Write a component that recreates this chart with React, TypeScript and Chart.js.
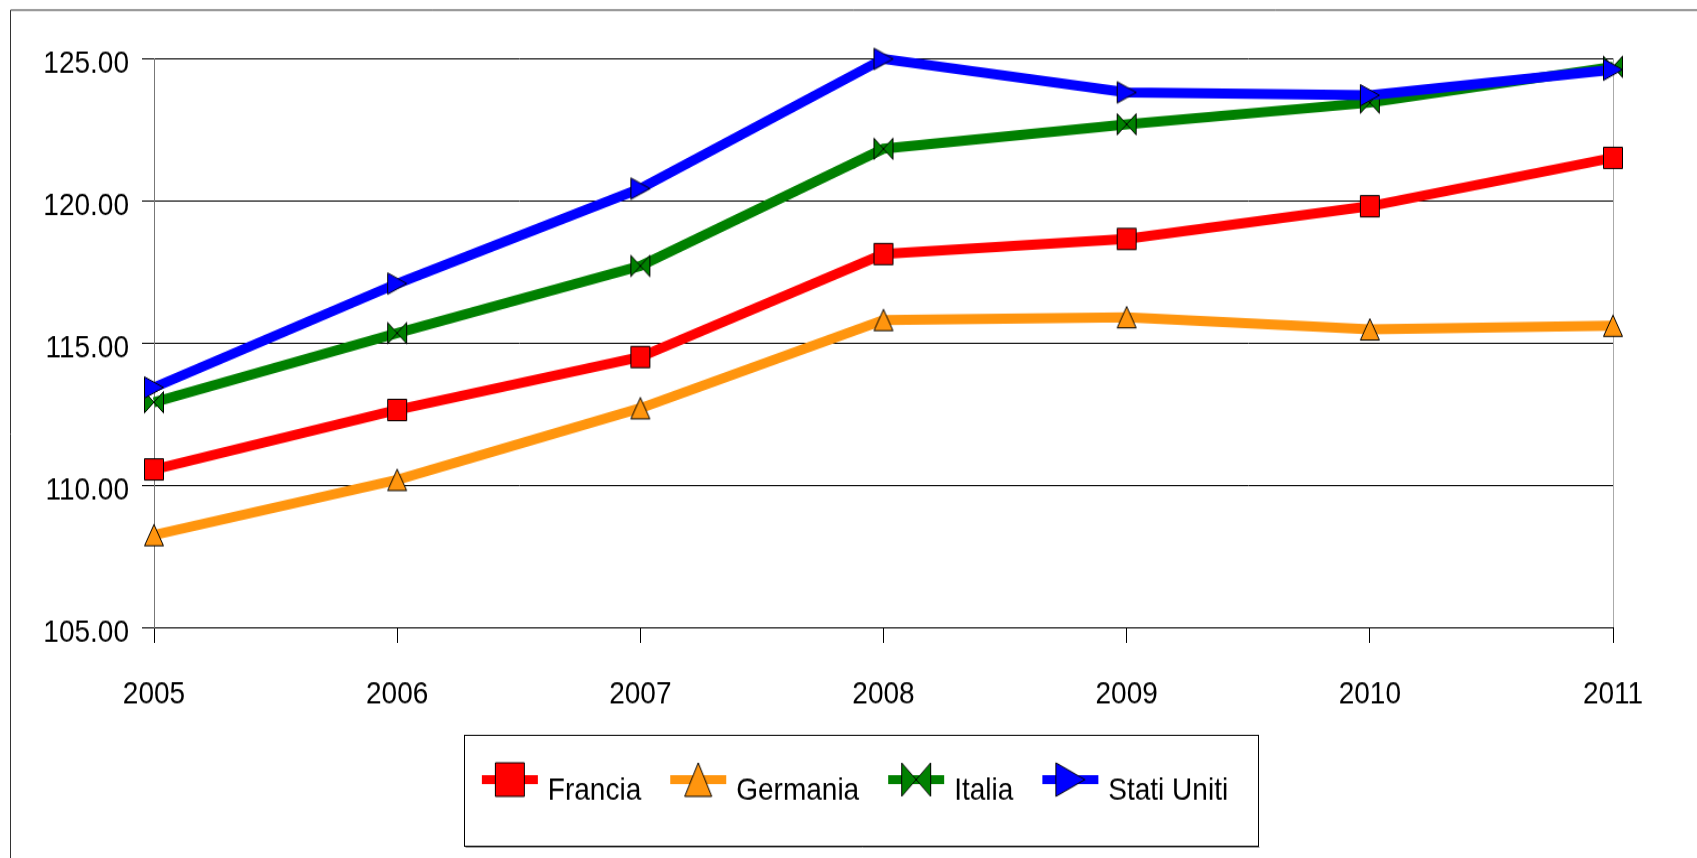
import React, { useEffect, useRef } from "react";
import { Chart, registerables } from "chart.js";

Chart.register(...registerables);

const years = ["2005", "2006", "2007", "2008", "2009", "2010", "2011"];
const francia = [110.55, 112.64, 114.5, 118.12, 118.65, 119.8, 121.5];
const germania = [108.24, 110.18, 112.7, 115.8, 115.9, 115.47, 115.6];
const italia = [112.91, 115.34, 117.7, 121.82, 122.68, 123.44, 124.7];
const statiUniti = [113.43, 117.08, 120.42, 124.98, 123.8, 123.7, 124.6];
const yTicks = [105, 110, 115, 120, 125];

const seriesNames = ["Francia", "Germania", "Italia", "Stati Uniti"];
const seriesColors = ["#ff0000", "#ff950e", "#008000", "#0000ff"];
const seriesShapes = ["square", "triUp", "bowtie", "triRight"];

// The reference picture is stretched vertically; draw into a shorter buffer and stretch it with CSS.
const PAGE_W = 1697;
const PAGE_H = 858;
const STRETCH = 1.12;
const BUF_H = Math.round(PAGE_H / STRETCH);

function shapePath(ctx: CanvasRenderingContext2D, shape: string, cx: number, cy: number, hw: number, hh: number) {
  ctx.beginPath();
  if (shape === "square") {
    ctx.rect(cx - hw, cy - hh, hw * 2, hh * 2);
  } else if (shape === "triUp") {
    ctx.moveTo(cx, cy - hh);
    ctx.lineTo(cx + hw, cy + hh);
    ctx.lineTo(cx - hw, cy + hh);
    ctx.closePath();
  } else if (shape === "bowtie") {
    ctx.moveTo(cx - hw, cy - hh);
    ctx.lineTo(cx + hw, cy + hh);
    ctx.lineTo(cx + hw, cy - hh);
    ctx.lineTo(cx - hw, cy + hh);
    ctx.closePath();
  } else {
    ctx.moveTo(cx - hw, cy - hh);
    ctx.lineTo(cx + hw, cy);
    ctx.lineTo(cx - hw, cy + hh);
    ctx.closePath();
  }
}

function makeMarker(shape: string, color: string) {
  const c = document.createElement("canvas");
  c.width = 24;
  c.height = 24;
  const ctx = c.getContext("2d")!;
  shapePath(ctx, shape, 12, 12, 9.5, 9.5);
  ctx.fillStyle = color;
  ctx.fill();
  ctx.lineWidth = 1;
  ctx.strokeStyle = "#000";
  ctx.stroke();
  return c;
}

function makeLegendMarker(shape: string, color: string) {
  const c = document.createElement("canvas");
  c.width = 60;
  c.height = 64;
  const ctx = c.getContext("2d")!;
  const cy = 32 - 10;
  ctx.fillStyle = color;
  ctx.fillRect(2, cy - 4, 56, 8);
  const hw = shape === "triUp" ? 13.5 : 14.5;
  shapePath(ctx, shape, 30, cy, hw, 15);
  ctx.fill();
  ctx.lineWidth = 1;
  ctx.strokeStyle = "#000";
  ctx.stroke();
  return c;
}

const framePlugin = {
  id: "framePlugin",
  afterLayout(chart: any) {
    const lg = chart.legend;
    if (lg) {
      const left = chart.chartArea.left - 53;
      const right = chart.chartArea.right;
      lg.left = left;
      lg.right = right;
      lg.width = right - left;
    }
  },
  afterDraw(chart: any) {
    const ctx = chart.ctx as CanvasRenderingContext2D;
    ctx.save();
    ctx.strokeStyle = "#333";
    ctx.lineWidth = 1;
    ctx.beginPath();
    ctx.moveTo(10.5, chart.height);
    ctx.lineTo(10.5, 9);
    ctx.lineTo(chart.width, 9);
    ctx.stroke();
    const lg = chart.legend;
    if (lg && lg.legendHitBoxes && lg.legendHitBoxes.length) {
      const hb = lg.legendHitBoxes;
      const first = hb[0];
      const last = hb[hb.length - 1];
      const midY = first.top + first.height / 2;
      const left = Math.round(first.left - 21.5) + 0.5;
      const right = Math.round(last.left + last.width + 30) + 0.5;
      const top = Math.round(midY - 50.5) + 0.5;
      const bottom = Math.round(midY + 48.5) + 0.5;
      ctx.strokeStyle = "#000";
      ctx.strokeRect(left, top, right - left, bottom - top);
      ctx.strokeStyle = "#999";
      ctx.beginPath();
      ctx.moveTo(left + 1, bottom + 1);
      ctx.lineTo(right + 1, bottom + 1);
      ctx.stroke();
    }
    ctx.restore();
  },
};

export default function App() {
  const ref = useRef<HTMLCanvasElement | null>(null);

  useEffect(() => {
    if (!ref.current) return;
    Chart.defaults.font.family = "'Liberation Sans', Arial, sans-serif";
    Chart.defaults.color = "#000";
    const values = [francia, germania, italia, statiUniti];
    const orders = [4, 3, 2, 1];
    const datasets = values.map((v, i) => ({
      label: seriesNames[i],
      data: v,
      borderColor: seriesColors[i],
      backgroundColor: seriesColors[i],
      borderWidth: 9,
      tension: 0,
      pointStyle: makeMarker(seriesShapes[i], seriesColors[i]),
      pointRadius: 10,
      pointHoverRadius: 10,
      clip: false as any,
      order: orders[i],
    }));
    const legendImgs = seriesShapes.map((s, i) => makeLegendMarker(s, seriesColors[i]));

    const chart = new Chart(ref.current, {
      type: "line",
      data: { labels: years, datasets },
      plugins: [framePlugin],
      options: {
        animation: false,
        responsive: false,
        devicePixelRatio: 1,
        layout: { padding: { left: 12, right: 84, top: 52, bottom: 36 } },
        plugins: {
          tooltip: { enabled: false },
          legend: {
            position: "bottom",
            labels: {
              usePointStyle: true,
              pointStyleWidth: 48,
              padding: 33,
              font: { size: 28 },
              color: "#000",
              generateLabels: () =>
                seriesNames.map((n, i) => ({
                  text: n,
                  pointStyle: legendImgs[i] as any,
                  fillStyle: seriesColors[i],
                  strokeStyle: "#000",
                  lineWidth: 1,
                  hidden: false,
                  datasetIndex: i,
                })),
            },
          },
        },
        scales: {
          x: {
            type: "category",
            offset: false,
            border: { display: true, color: "#000", width: 1 },
            grid: {
              drawOnChartArea: true,
              drawTicks: true,
              tickLength: 14,
              tickColor: "#000",
              color: (c: any) => (c.index === years.length - 1 ? "#aaa" : "rgba(0,0,0,0)"),
            },
            ticks: { font: { size: 28 }, color: "#000", padding: 29, maxRotation: 0, autoSkip: false },
            afterFit: (s: any) => {
              s.height = 99;
              s.paddingLeft = 0;
              s.paddingRight = 0;
            },
          },
          y: {
            min: yTicks[0],
            max: yTicks[yTicks.length - 1],
            border: { display: true, color: "#777", width: 1 },
            grid: { color: "#000", tickLength: 12, tickColor: "#000", lineWidth: 1 },
            afterBuildTicks: (s: any) => {
              s.ticks = yTicks.map((v) => ({ value: v }));
            },
            ticks: {
              font: { size: 28 },
              color: "#000",
              padding: 13,
              labelOffset: 5,
              callback: (v: any) => Number(v).toFixed(2),
            },
            afterFit: (s: any) => {
              s.width = 142;
              s.paddingTop = 0;
              s.paddingBottom = 0;
            },
          },
        },
      },
    });
    return () => chart.destroy();
  }, []);

  return (
    <div style={{ position: "fixed", left: 0, top: 0, width: PAGE_W, height: PAGE_H, background: "#fff" }}>
      <canvas
        ref={ref}
        width={PAGE_W}
        height={BUF_H}
        style={{ display: "block", width: PAGE_W + "px", height: PAGE_H + "px" }}
      />
    </div>
  );
}
